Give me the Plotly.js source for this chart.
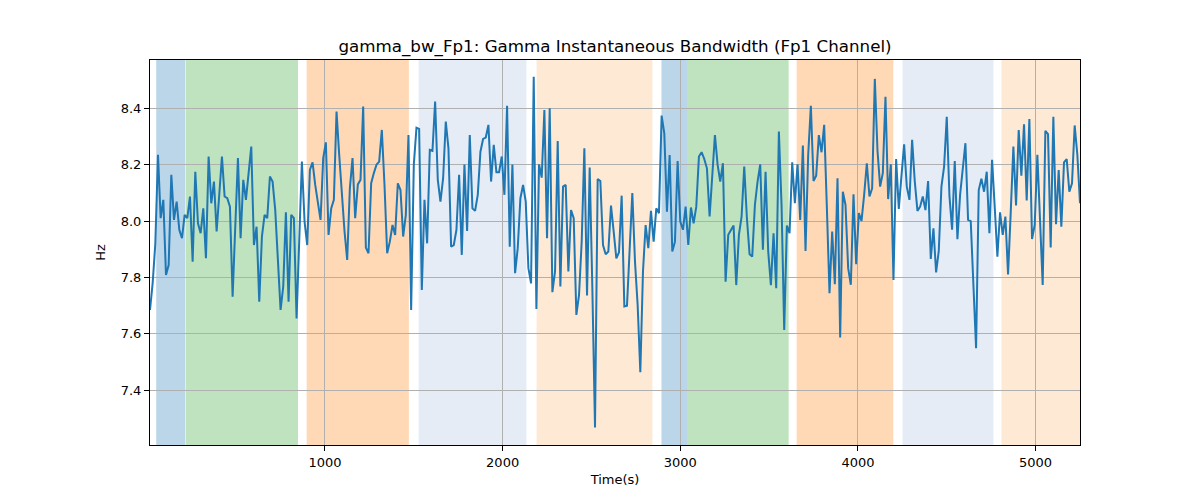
<!DOCTYPE html>
<html>
<head>
<meta charset="utf-8">
<script src="https://cdn.plot.ly/plotly-3.0.1.min.js"></script>
<style>
  body { margin: 0; background: #fff; }
  #chart { width: 1200px; height: 500px; }
</style>
</head>
<body>
<div id="chart"></div>
<script>
// sampling grid of the bandwidth trace (seconds)
const sampleStart = 15;
const samplePeriod = 15;

// instantaneous bandwidth, Hz
const bandwidthHz = [
  7.685, 7.78, 7.92, 8.235, 8.01, 8.075, 7.809, 7.844, 8.164, 8.004,
  8.069, 7.969, 7.939, 8.022, 8.01, 8.087, 7.856, 8.175, 7.992, 7.957,
  8.045, 7.868, 8.229, 8.063, 8.14, 7.963, 8.095, 8.229, 8.087, 8.081,
  8.051, 7.732, 7.98, 8.223, 7.939, 8.146, 8.075, 8.17,
  8.264, 7.915, 7.98, 7.714, 7.945, 8.022, 8.01, 8.158, 8.14, 8.039,
  7.86, 7.685, 7.768, 8.031, 7.714, 8.022, 8.01, 7.655, 7.93, 8.211,
  7.998, 7.915, 8.181, 8.208, 8.128, 8.069, 8.004, 8.223, 8.279, 7.951,
  8.045, 8.075, 8.388, 8.235, 8.093, 7.963, 7.862, 8.116, 8.223,
  8.01, 8.13, 8.146, 8.406, 7.906, 7.886, 8.134, 8.17, 8.2, 8.211,
  8.323, 8.128, 7.886, 7.927, 7.986, 7.951, 8.134, 8.11, 7.945, 8.022,
  8.305, 7.685, 8.2, 8.331, 8.327, 7.756, 8.075, 7.921, 8.252, 8.249,
  8.424, 8.146, 8.069, 8.152, 8.353, 8.258, 7.909, 7.915, 7.969,
  8.164, 7.88, 8.2, 7.965, 8.305, 8.045, 8.036, 8.093, 8.246, 8.291,
  8.296, 8.341, 8.14, 8.27, 8.173, 8.173, 8.229, 8.093, 8.409, 7.909,
  8.2, 7.815, 7.904, 8.081, 8.128, 8.069, 7.833, 7.779, 8.512, 7.688,
  8.201, 8.154, 8.394, 7.939, 8.4, 7.748, 7.821, 8.284, 7.768,
  8.122, 8.128, 7.821, 8.039, 8.01, 7.667, 7.738, 7.927, 8.258, 7.736,
  8.19, 7.762, 7.268, 8.149, 8.142, 7.915, 7.882, 7.892, 8.055, 7.963,
  7.868, 7.889, 8.09, 7.697, 7.7, 7.9, 8.099, 7.856, 7.702, 7.464,
  7.821, 7.986, 7.904, 8.036, 7.927, 8.045, 8.028, 8.374, 8.311, 8.033,
  8.234, 7.892, 7.927, 8.213, 7.998, 7.969, 8.051, 7.915, 8.048, 7.992,
  8.051, 8.229, 8.244, 8.22, 8.187, 8.016, 8.16, 8.305, 8.2, 8.14,
  8.205, 7.785, 7.951, 7.969, 7.984, 7.773, 7.951, 8.016, 8.193, 8.01,
  7.882, 7.874, 8.057, 8.14, 8.201, 7.898, 8.175, 7.892, 7.773,
  7.957, 7.762, 8.317, 8.057, 7.614, 7.984, 7.957, 8.208, 8.063, 8.201,
  8.004, 8.268, 7.894, 8.235, 8.409, 8.142, 8.161, 8.305, 8.244, 8.341,
  8.05, 7.744, 7.963, 7.776, 8.152, 7.587, 8.104, 8.057, 7.833, 7.774,
  8.095, 7.847, 8.028, 8.0, 8.093, 8.205, 8.087, 8.116, 8.504,
  8.25, 8.122, 8.17, 8.441, 8.078, 8.201, 7.791, 8.22, 8.043, 8.16,
  8.272, 8.122, 8.075, 8.288, 8.14, 8.036, 8.051, 8.087, 8.039, 8.142,
  7.866, 7.974, 7.818, 7.894, 8.122, 8.193, 8.37, 8.09, 7.969, 8.213,
  7.936, 8.093, 8.187, 8.276, 8.004, 8.0, 7.773, 7.549, 8.11,
  8.15, 8.104, 8.175, 7.957, 8.217, 8.05, 7.874, 8.031, 7.951, 8.016,
  7.811, 8.03, 8.264, 8.055, 8.323, 8.161, 8.343, 8.073, 8.362, 7.936,
  7.986, 8.235, 8.0, 7.773, 8.32, 8.308, 7.906, 8.37, 7.989, 8.181,
  7.98, 8.208, 8.22, 8.104, 8.134, 8.339, 8.235, 8.063
];

// shaded segments (seconds)
const spanStart = [50, 216, 897, 1527, 2191, 2894, 3038, 3655, 4251, 4808];
const spanEnd   = [213, 848, 1472, 2134, 2843, 3038, 3610, 4199, 4763, 5300];
const spanColor = [
  'rgba(31,119,180,0.3)', 'rgba(44,160,44,0.3)', 'rgba(255,127,14,0.3)',
  'rgb(229,236,246)', 'rgb(254,233,213)',
  'rgba(31,119,180,0.3)', 'rgba(44,160,44,0.3)', 'rgba(255,127,14,0.3)',
  'rgb(229,236,246)', 'rgb(254,233,213)'
];

const yTicks = [7.4, 7.6, 7.8, 8.0, 8.2, 8.4];
const xTicks = [1000, 2000, 3000, 4000, 5000];

let times = bandwidthHz.map((_, i) => sampleStart + i * samplePeriod);

let trace = {
  x: times,
  y: bandwidthHz,
  mode: 'lines',
  type: 'scatter',
  line: {color: '#1f77b4', width: 2},
  hoverinfo: 'x+y'
};

let shapes = spanStart.map((s, i) => ({
  type: 'rect',
  xref: 'x', yref: 'paper',
  x0: s, x1: spanEnd[i], y0: 0, y1: 1,
  fillcolor: spanColor[i],
  line: {width: 0},
  layer: 'below'
}));

let axisCommon = {
  showline: true, mirror: true, linecolor: '#000', linewidth: 1,
  ticks: 'outside', ticklen: 5, tickwidth: 1, tickcolor: '#000',
  showgrid: true, gridcolor: '#b0b0b0', gridwidth: 1,
  zeroline: false,
  tickfont: {size: 13, color: '#000'}
};

let layout = {
  width: 1200, height: 500,
  margin: {l: 150, r: 120, t: 60, b: 55},
  paper_bgcolor: '#fff', plot_bgcolor: '#fff',
  font: {family: 'DejaVu Sans', color: '#000'},
  showlegend: false,
  title: {
    text: 'gamma_bw_Fp1: Gamma Instantaneous Bandwidth (Fp1 Channel)',
    font: {size: 16.7, color: '#000'},
    x: 0.5125, xanchor: 'center',
    y: 0.908, yref: 'container', yanchor: 'middle'
  },
  xaxis: Object.assign({}, axisCommon, {
    range: [15, 5250],
    tickvals: xTicks, ticktext: xTicks.map(String),
    title: {text: 'Time(s)', font: {size: 13}, standoff: 6}
  }),
  yaxis: Object.assign({}, axisCommon, {
    range: [7.206, 8.571],
    tickvals: yTicks, ticktext: yTicks.map(v => v.toFixed(1)),
    title: {text: 'Hz', font: {size: 13}, standoff: 12}
  }),
  shapes: shapes
};

Plotly.newPlot('chart', [trace], layout, {displayModeBar: false, staticPlot: true});
</script>
</body>
</html>
